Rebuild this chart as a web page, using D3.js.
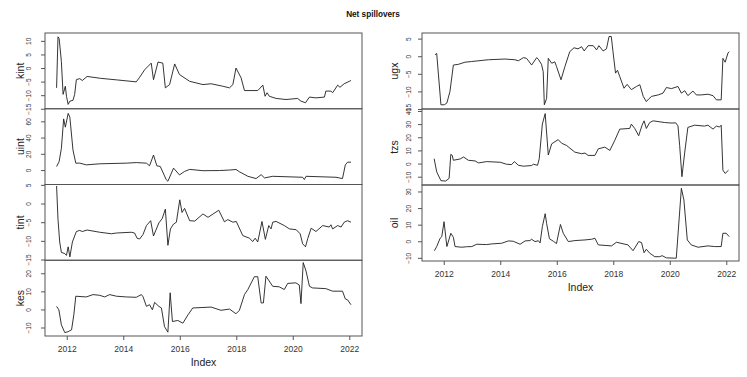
<!DOCTYPE html>
<html><head><meta charset="utf-8">
<script src="https://cdn.jsdelivr.net/npm/d3@7"></script>
<style>body{margin:0;background:#fff}svg{display:block}text{font-family:"Liberation Sans",Arial,sans-serif}</style>
</head><body><svg id="c" width="747" height="377"></svg>
<script>
// ---- data (year, value) per series ----
const kintX=[2011.64,2011.69,2011.73,2011.81,2011.87,2011.95,2011.99,2012.05,2012.11,2012.22,2012.28,2012.34,2012.46,2012.55,2012.72,2013.2,2013.8,2014.46,2014.58,2014.76,2014.99,2015.07,2015.23,2015.40,2015.49,2015.64,2015.82,2015.99,2016.35,2016.82,2017.11,2017.52,2017.76,2017.88,2017.99,2018.17,2018.29,2018.76,2018.94,2019.02,2019.09,2019.17,2019.41,2019.76,2020.17,2020.29,2020.45,2020.59,2020.82,2021.12,2021.17,2021.35,2021.41,2021.59,2021.67,2021.82,2022.0,2022.06];
const kintY=[-7.3,11.5,10.9,2.4,-9.7,-6.7,-10.4,-13.4,-12.2,-11.9,-9.7,-4.3,-3.9,-4.6,-3.1,-3.8,-4.4,-5.1,-3.4,-0.6,1.8,-4.3,2.2,1.8,-7.3,-6.1,1.5,-2.4,-4.9,-6.1,-5.8,-6.7,-7.3,-6.1,0,-3.6,-8.3,-8.3,-6.3,-10.4,-9.1,-10.4,-11.2,-11.6,-11.2,-12.2,-12.8,-10.7,-11.0,-10.7,-8.5,-8.5,-9.1,-6.3,-7.1,-5.8,-4.9,-4.6];
const uintX=[2011.64,2011.73,2011.81,2011.89,2011.95,2012.05,2012.11,2012.22,2012.32,2012.46,2012.69,2013.17,2014.11,2014.46,2014.82,2014.93,2015.07,2015.19,2015.31,2015.52,2015.58,2015.78,2015.99,2016.17,2016.35,2016.82,2017.41,2017.76,2017.99,2018.11,2018.41,2018.70,2018.88,2019.0,2019.29,2020.35,2020.41,2020.47,2021.53,2021.76,2021.86,2021.94,2022.06];
const uintY=[4.4,10.4,26.7,63,52.8,69.8,65,24.6,8.5,8.5,6.4,7.7,8.5,9.2,8.5,5.2,18.5,5.2,4.4,-11.8,-13.8,2.4,-6.0,-1.7,0.8,-0.8,-0.6,0,0.7,-2.1,-7.7,-10.5,-5.7,-9.7,-7.7,-8.9,-11.7,-7.7,-8.9,-10.5,6.4,9.7,9.7];
const tintX=[2011.64,2011.69,2011.75,2011.81,2011.93,2011.99,2012.05,2012.11,2012.20,2012.34,2012.46,2012.55,2012.72,2013.17,2013.58,2013.76,2014.28,2014.40,2014.49,2014.58,2014.70,2014.82,2014.97,2015.07,2015.26,2015.38,2015.49,2015.58,2015.67,2015.78,2015.88,2016.0,2016.08,2016.17,2016.35,2016.53,2016.82,2017.0,2017.38,2017.58,2017.70,2017.88,2018.0,2018.23,2018.47,2018.58,2018.67,2018.76,2018.91,2019.03,2019.15,2019.23,2019.29,2019.41,2019.70,2019.88,2020.12,2020.26,2020.35,2020.45,2020.53,2020.65,2020.82,2021.06,2021.29,2021.35,2021.41,2021.59,2021.71,2021.82,2021.94,2022.06];
const tintY=[4.7,-4.2,-10.3,-13.1,-13.4,-13.9,-11.6,-14.3,-10.3,-7.5,-7.2,-7.5,-7.1,-7.7,-8.1,-7.9,-7.7,-7.9,-9.3,-9.5,-8.3,-5.9,-4.6,-8.7,-5.2,-4.0,-1.5,-11.2,-6.8,-5.5,-5.0,1.0,-2.4,-1.3,-4.6,-4.7,-2.8,-3.7,-1.8,-4.9,-4.3,-5.0,-4.8,-8.6,-9.3,-10.2,-9.3,-10.3,-4.8,-9.6,-5.9,-6.8,-5.0,-4.8,-5.9,-6.8,-7.0,-8.1,-10.8,-11.6,-9.4,-6.6,-7.5,-5.9,-6.3,-5.7,-6.8,-5.9,-6.3,-5.0,-4.6,-5.0];
const kesX=[2011.64,2011.72,2011.81,2011.93,2012.05,2012.17,2012.25,2012.32,2012.69,2012.93,2013.17,2013.34,2013.52,2013.76,2014.11,2014.46,2014.64,2014.70,2014.82,2014.93,2015.03,2015.11,2015.26,2015.35,2015.46,2015.58,2015.66,2015.74,2015.93,2016.11,2016.29,2016.46,2017.11,2017.46,2017.76,2017.99,2018.11,2018.29,2018.41,2018.64,2018.76,2018.88,2018.96,2019.05,2019.29,2019.52,2019.70,2019.82,2020.11,2020.23,2020.29,2020.37,2020.47,2020.59,2020.70,2021.17,2021.41,2021.76,2021.86,2021.94,2022.06];
const kesY=[1.7,-0.2,-8.5,-12.8,-12.3,-11.3,-3,7.3,6.9,8.2,7.8,6.9,8.2,7.3,6.9,6.7,8.2,7.0,1.7,2.6,-0.2,3.9,1.7,0.8,-9.5,-12.6,9.2,-6.7,-6.1,-7.6,-3.0,0.8,1.3,-0.5,0.2,-2.4,-0.5,8.2,11.0,18.1,18.1,3.6,3.6,18.4,12.8,12.5,11.0,14.4,14.7,13.5,3.2,25.9,21.2,12.8,11.9,11.5,10.1,10.1,5.8,5.3,2.6];
const ugxX=[2011.69,2011.75,2011.90,2012.02,2012.11,2012.22,2012.34,2012.52,2012.75,2012.99,2013.58,2014.17,2014.52,2014.64,2014.82,2014.93,2015.11,2015.29,2015.35,2015.46,2015.52,2015.56,2015.64,2015.70,2015.82,2015.93,2015.99,2016.15,2016.29,2016.46,2016.61,2016.75,2016.88,2016.97,2017.11,2017.29,2017.41,2017.49,2017.64,2017.76,2017.85,2017.93,2017.99,2018.08,2018.15,2018.23,2018.38,2018.49,2018.64,2018.82,2018.94,2019.06,2019.17,2019.26,2019.36,2019.59,2019.76,2019.88,2020.06,2020.29,2020.41,2020.53,2020.64,2020.82,2020.94,2021.11,2021.35,2021.53,2021.65,2021.82,2021.88,2021.96,2022.06,2022.10];
const ugxY=[0.4,0.8,-13.8,-13.8,-13.3,-10.0,-2.5,-2.3,-1.7,-1.5,-1.0,-0.8,-1.0,-1.3,-0.4,-0.6,-2.5,-0.4,-0.9,-2.3,-4.4,-13.8,-12.0,-0.6,-2.0,-1.6,-2.9,-6.7,-2.9,1.3,2.4,2.1,2.7,1.5,3.0,3.0,1.8,3.0,1.5,2.1,5.6,5.6,1.3,-4.8,-4.0,-5.8,-9.1,-8.0,-9.5,-8.6,-8.1,-11.4,-12.9,-12.1,-11.4,-11.0,-10.5,-8.9,-9.2,-8.6,-10.5,-9.8,-11.2,-9.9,-11.0,-11.0,-10.8,-11.2,-12.4,-12.4,-0.6,-1.7,0.9,1.3];
const tzsX=[2011.66,2011.75,2011.90,2012.07,2012.19,2012.25,2012.30,2012.34,2012.58,2012.70,2012.87,2013.11,2013.23,2013.52,2014.0,2014.22,2014.40,2014.50,2014.64,2014.82,2015.11,2015.17,2015.32,2015.38,2015.49,2015.59,2015.70,2015.82,2016.05,2016.17,2016.35,2016.64,2016.88,2017.0,2017.11,2017.35,2017.47,2017.70,2017.88,2018.05,2018.23,2018.58,2018.64,2018.76,2018.90,2019.02,2019.09,2019.17,2019.29,2019.41,2019.82,2020.08,2020.21,2020.29,2020.35,2020.43,2020.53,2020.64,2020.88,2021.23,2021.35,2021.53,2021.65,2021.76,2021.82,2021.88,2021.96,2022.08];
const tzsY=[3.7,-6.3,-13,-13.3,-11.2,7.0,6.3,2.5,3.5,5.0,2.5,2.0,0.5,1.5,1.0,-0.5,-0.8,1.5,-1.3,-2.0,-1.5,-0.5,-1.3,3.7,30,38,6.5,15,18.2,15.5,13.7,8.7,7.5,8.0,6.2,6.2,11.2,12.5,10,17.5,26.2,26.7,30,26.7,21.2,29.2,32.5,26.7,31.2,32.5,31.2,30.8,31.0,28.7,13.7,-10,8.7,27.5,29.2,28.5,29.2,26.2,28.5,27.8,29.2,-5,-7.5,-5];
const oilX=[2011.67,2011.75,2011.87,2011.93,2012.01,2012.11,2012.25,2012.34,2012.40,2012.64,2012.81,2012.99,2013.17,2013.52,2013.70,2014.05,2014.29,2014.46,2014.70,2014.88,2015.05,2015.11,2015.23,2015.35,2015.41,2015.49,2015.59,2015.64,2015.74,2015.88,2015.99,2016.13,2016.23,2016.41,2016.64,2017.0,2017.23,2017.35,2017.47,2017.94,2018.11,2018.52,2018.70,2018.90,2019.0,2019.09,2019.17,2019.29,2019.47,2019.64,2019.73,2019.88,2020.17,2020.23,2020.41,2020.50,2020.62,2020.76,2021.0,2021.35,2021.59,2021.82,2021.88,2022.0,2022.1];
const oilY=[-5.7,-3.2,1.8,2.8,11.8,-3.2,4.8,2.4,-3.2,-3.6,-3.3,-3.2,-1.8,-2.0,-1.6,-1.2,0.2,0.0,-1.8,0.2,0.4,1.2,-0.2,0.3,-1.0,8.8,16.6,10.8,1.5,0,-1.4,10.1,4.8,-0.2,0.4,0.8,1.2,1.8,-2.2,-2.8,-0.6,-2.2,-5.7,-0.2,-0.8,-6.9,-4.8,-7.2,-9.3,-9.3,-8.7,-10,-10.2,-10.2,31.9,24.9,0.8,-2.2,-3.6,-2.8,-3.2,-3.2,4.8,4.8,2.8];

const xTicks=[2012,2014,2016,2018,2020,2022];
const kintTicks=[-15,-10,-5,0,5,10], uintTicks=[0,20,40,60], tintTicks=[-15,-10,-5,0,5], kesTicks=[-10,0,10,20];
const ugxTicks=[-15,-10,-5,0,5], tzsTicks=[-10,0,10,20,30,40], oilTicks=[-10,0,10,20,30];
const title="Net spillovers";

// ---- layout ----
const svg=d3.select("#c");
svg.append("text").attr("x",373).attr("y",17).attr("text-anchor","middle")
  .attr("font-size",8.2).attr("font-weight","bold").attr("fill","#111").text(title);

const columns=[
  {x0:45,x1:362,top:33,h:75.75,labelX:20,tickLX:29,panels:[
    {name:"kint",X:kintX,Y:kintY,dom:[-15.0,12.9],ticks:kintTicks},
    {name:"uint",X:uintX,Y:uintY,dom:[-17.8,75.5],ticks:uintTicks},
    {name:"tint",X:tintX,Y:tintY,dom:[-15.2,5.1],ticks:tintTicks},
    {name:"kes",X:kesX,Y:kesY,dom:[-14.7,27.2],ticks:kesTicks}]},
  {x0:422,x1:739,top:33,h:76,labelX:394,tickLX:409,panels:[
    {name:"ugx",X:ugxX,Y:ugxY,dom:[-15.0,6.6],ticks:ugxTicks},
    {name:"tzs",X:tzsX,Y:tzsY,dom:[-16.3,41.5],ticks:tzsTicks},
    {name:"oil",X:oilX,Y:oilY,dom:[-11.9,33.9],ticks:oilTicks}]}
];

columns.forEach(col=>{
  const x=d3.scaleLinear().domain([2011.23,2022.45]).range([col.x0,col.x1]);
  col.panels.forEach((p,i)=>{
    const t=col.top+i*col.h, b=t+col.h;
    const y=d3.scaleLinear().domain(p.dom).range([b,t]);
    const g=svg.append("g");
    // line
    const pts=p.X.map((d,k)=>[d,p.Y[k]]);
    g.append("path").attr("d",d3.line().x(d=>x(d[0])).y(d=>y(d[1]))(pts))
      .attr("fill","none").attr("stroke","#1e1e1e").attr("stroke-width",0.9).attr("stroke-linejoin","round");
    // box
    g.append("rect").attr("x",col.x0).attr("y",t).attr("width",col.x1-col.x0).attr("height",col.h)
      .attr("fill","none").attr("stroke","#555").attr("stroke-width",1);
    // y axis
    const ax=d3.axisLeft(y).tickValues(p.ticks).tickSize(4).tickPadding(0).tickFormat(d3.format("d"));
    const ag=g.append("g").attr("transform",`translate(${col.x0},0)`).call(ax);
    ag.select(".domain").remove();
    ag.selectAll(".tick line").attr("stroke","#555");
    ag.selectAll(".tick text").attr("x",null).attr("dy",null).attr("text-anchor","middle")
      .attr("font-size",6.5).attr("fill","#333")
      .attr("transform",`translate(${col.tickLX-col.x0},0) rotate(-90)`).attr("dy","0.35em");
    // label
    g.append("text").attr("transform",`translate(${col.labelX},${(t+b)/2}) rotate(-90)`)
      .attr("text-anchor","middle").attr("dy","0.35em").attr("font-size",10.5).attr("fill","#222").text(p.name);
  });
  const bottom=col.top+col.panels.length*col.h;
  const xa=d3.axisBottom(x).tickValues(xTicks).tickSize(4).tickPadding(6).tickFormat(d3.format("d"));
  const xg=svg.append("g").attr("transform",`translate(0,${bottom})`).call(xa);
  xg.select(".domain").remove();
  xg.selectAll(".tick line").attr("stroke","#555");
  xg.selectAll(".tick text").attr("font-size",8.5).attr("fill","#333");
  svg.append("text").attr("x",(col.x0+col.x1)/2).attr("y",bottom+30).attr("text-anchor","middle")
    .attr("font-size",10.5).attr("fill","#222").text("Index");
});
</script></body></html>
